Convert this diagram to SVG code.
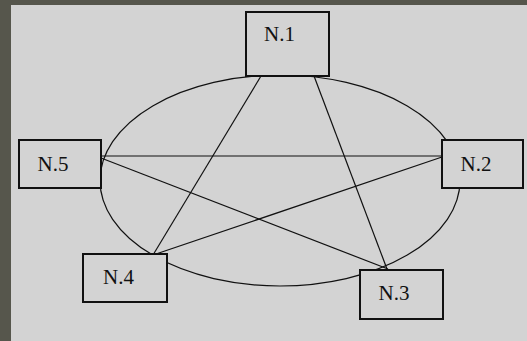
<svg xmlns="http://www.w3.org/2000/svg" width="527" height="341" viewBox="0 0 527 341">
<style>
.node rect{fill:#d3d3d3;stroke:#111;stroke-width:2}
.node text{font-family:"Liberation Serif","Times New Roman",serif;font-size:21px;fill:#111;text-anchor:middle}
.edge{stroke:#111;stroke-width:1.2;fill:none}
</style>
<rect x="0" y="0" width="527" height="341" fill="#56564c"/>
<rect x="11" y="5" width="516" height="336" fill="#d3d3d3"/>
<g id="connectors">
<ellipse class="edge" cx="280" cy="180.5" rx="180" ry="105.5"/>
<line class="edge" x1="261" y1="76" x2="153" y2="255"/>
<line class="edge" x1="314" y1="76" x2="387" y2="269"/>
<line class="edge" x1="101" y1="156" x2="442" y2="156"/>
<line class="edge" x1="101" y1="158" x2="388" y2="269"/>
<line class="edge" x1="153" y1="255" x2="442" y2="157"/>
</g>
<g id="n1" class="node"><rect x="246" y="12" width="83" height="64"/><text x="279.5" y="41">N.1</text></g>
<g id="n5" class="node"><rect x="19" y="140" width="82" height="48"/><text x="53" y="171">N.5</text></g>
<g id="n2" class="node"><rect x="442" y="140" width="81" height="48"/><text x="476" y="171">N.2</text></g>
<g id="n4" class="node"><rect x="83" y="254" width="84" height="48"/><text x="118.5" y="284">N.4</text></g>
<g id="n3" class="node"><rect x="360" y="270" width="83" height="49"/><text x="394" y="300">N.3</text></g>
</svg>
